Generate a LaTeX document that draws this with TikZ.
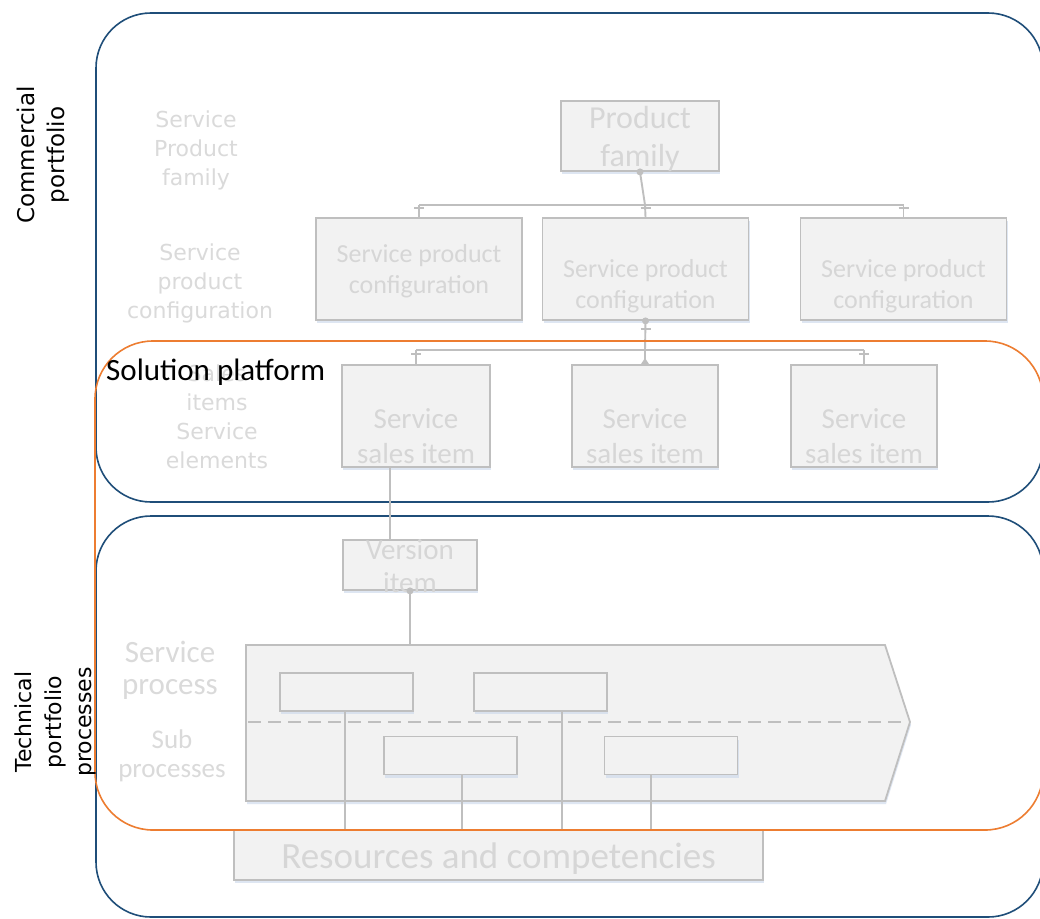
\documentclass[tikz,border=0pt]{standalone}
\usepackage{fontspec}
\setmainfont{Carlito}
\newfontfamily\comicf{DejaVu Sans}
\usetikzlibrary{shadows,calc}
\definecolor{bfill}{HTML}{F2F2F2}
\definecolor{bline}{HTML}{BFBFBF}
\definecolor{btxt}{HTML}{D6D6D6}
\definecolor{ltxt}{HTML}{DADADA}
\definecolor{bluel}{HTML}{1F4E79}
\definecolor{orangel}{HTML}{ED7D31}
\definecolor{shadowc}{HTML}{C9D6EA}
\begin{document}
\begin{tikzpicture}[x=1pt,y=-1pt,
  gbox/.style={draw=bline, fill=bfill, line width=1.8pt, inner sep=0pt, align=center, text=btxt,
    drop shadow={shadow xshift=1pt, shadow yshift=-3pt, fill=shadowc, opacity=0.6}},
  conn/.style={draw=bline, line width=1.9pt},
  tick/.style={draw=bline, line width=1.6pt},
  sidelbl/.style={text=ltxt, align=center, font=\comicf\fontsize{22}{29}\selectfont},
  bigbox/.style={line width=1.6pt, rounded corners=55pt},
  rotlbl/.style={rotate=90, align=center, text=black}]
\useasboundingbox (0,0) rectangle (1040,918);
\fill[white] (0,0) rectangle (1040,918);

% region boxes (blue)
\draw[bigbox, draw=bluel] (96,13) rectangle (1043,502);
\draw[bigbox, draw=bluel] (96,516) rectangle (1043,917);

% side labels
\node[sidelbl] (lpf) at (196,150) {Service\\Product\\family};
\node[sidelbl] (lspc) at (200,283) {Service\\product\\configuration};
\node[sidelbl] (lsi) at (217,417) {Sales\\items\\Service\\elements};
\node[text=ltxt, align=center, font=\fontsize{31}{32}\selectfont] (lsp) at (170,670) {Service\\process};
\node[text=ltxt, align=center, font=\fontsize{27}{29}\selectfont] (lsub) at (172,756) {Sub\\processes};

% commercial nodes
\node[gbox, minimum width=158pt, minimum height=70pt,
  label={[text=btxt, align=center, font=\fontsize{32}{38}\selectfont, yshift=-3pt]center:Product\\family}] (pf) at (640,136) {};
\node[gbox, minimum width=206pt, minimum height=102pt,
  label={[text=btxt, align=center, font=\fontsize{26}{31}\selectfont, yshift=-2pt]center:Service product\\configuration}] (spc1) at (419,269) {};
\node[gbox, minimum width=206pt, minimum height=102pt,
  label={[text=btxt, align=center, font=\fontsize{26}{31}\selectfont, yshift=-17pt]center:Service product\\configuration}] (spc2) at (645.5,269) {};
\node[gbox, minimum width=206pt, minimum height=102pt,
  label={[text=btxt, align=center, font=\fontsize{26}{31}\selectfont, yshift=-17pt]center:Service product\\configuration}] (spc3) at (903.5,269) {};

\node[gbox, minimum width=148pt, minimum height=102pt,
  label={[text=btxt, align=center, font=\fontsize{29}{35}\selectfont, yshift=-20pt]center:Service\\sales item}] (ssi1) at (416,416) {};
\node[gbox, minimum width=146pt, minimum height=102pt,
  label={[text=btxt, align=center, font=\fontsize{29}{35}\selectfont, yshift=-20pt]center:Service\\sales item}] (ssi2) at (645,416) {};
\node[gbox, minimum width=146pt, minimum height=102pt,
  label={[text=btxt, align=center, font=\fontsize{29}{35}\selectfont, yshift=-20pt]center:Service\\sales item}] (ssi3) at (864,416) {};

\node[gbox, minimum width=134pt, minimum height=50pt,
  label={[text=btxt, align=center, font=\fontsize{29}{33}\selectfont, yshift=-1pt]center:Version\\item}] (ver) at (410,565) {};

% service process chevron
\draw[draw=bline, fill=bfill, line width=1.8pt,
  drop shadow={shadow xshift=1pt, shadow yshift=-3pt, fill=shadowc, opacity=0.6}]
  (246,645) -- (885,645) -- (910,722) -- (885,801) -- (246,801) -- cycle;
\coordinate (sptop) at (410,645);
\draw[draw=bline, line width=2.5pt, dash pattern=on 13pt off 7pt] (248,722) -- (907,722);

\node[gbox, minimum width=133pt, minimum height=38pt] (pa) at (346.5,692) {};
\node[gbox, minimum width=133pt, minimum height=38pt] (pb) at (540.5,692) {};
\node[gbox, minimum width=133pt, minimum height=38pt] (pc) at (450.5,755.5) {};
\node[gbox, minimum width=133pt, minimum height=38pt] (pd) at (671,755.5) {};

\node[gbox, minimum width=529pt, minimum height=50pt,
  label={[text=btxt, font=\fontsize{37}{40}\selectfont, yshift=-4pt]center:Resources and competencies}] (res) at (498.5,855) {};

% connectors: product family -> configurations
\coordinate (b1) at (645,205);
\draw[conn] (pf.south) -- (b1);
\draw[conn] (spc1.north |- b1) -- (spc3.north |- b1);
\draw[conn] (spc1.north |- b1) -- (spc1.north);
\draw[conn] (b1) -- (spc2.north);
\draw[conn] (spc3.north |- b1) -- (spc3.north);
\foreach \n in {spc1,spc2,spc3}{
  \draw[tick] ($(\n.north)+(-5,-9)$) -- ++(10,0);
}
\fill[bline] (pf.south) circle (3.5pt);

% configuration -> sales items
\coordinate (b2) at (645,350);
\draw[conn] (spc2.south) -- (b2);
\draw[conn] (ssi1.north |- b2) -- (ssi3.north |- b2);
\draw[conn] (ssi1.north |- b2) -- (ssi1.north);
\draw[conn] (b2) -- (ssi2.north);
\draw[conn] (ssi3.north |- b2) -- (ssi3.north);
\draw[tick] ($(spc2.south)+(-5,8)$) -- ++(10,0);
\draw[tick] ($(ssi1.north)+(-5,-10)$) -- ++(10,0);
\draw[tick] ($(ssi3.north)+(-5,-10)$) -- ++(10,0);
\fill[bline] (spc2.south) circle (3.5pt);
\fill[bline] ($(ssi2.north)+(-4,0)$) -- ($(ssi2.north)+(0,-6)$) -- ($(ssi2.north)+(4,0)$) -- cycle;

% sales item -> version item -> process
\draw[conn] ([xshift=-26pt]ssi1.south) -- ([xshift=-26pt]ssi1.south |- ver.north);
\draw[conn] (ver.south) -- (sptop);
\fill[bline] (ver.south) circle (3.5pt);

% process boxes -> resources
\draw[conn] ([xshift=-1.5pt]pa.south) -- ([xshift=-1.5pt]pa.south |- res.north);
\draw[conn] ([xshift=21.5pt]pb.south) -- ([xshift=21.5pt]pb.south |- res.north);
\draw[conn] ([xshift=11.5pt]pc.south) -- ([xshift=11.5pt]pc.south |- res.north);
\draw[conn] ([xshift=-20pt]pd.south) -- ([xshift=-20pt]pd.south |- res.north);

% solution platform region (orange)
\draw[bigbox, draw=orangel, rounded corners=58pt] (95,341) rectangle (1043,830);
\node[anchor=west, text=black, font=\fontsize{31}{34}\selectfont, inner sep=0pt] (sol) at (106,372) {Solution platform};

% rotated labels
\node[rotlbl, font=\comicf\fontsize{23}{30}\selectfont] (cp) at (43,155) {Commercial\\portfolio};
\node[rotlbl, font=\comicf\fontsize{22}{30}\selectfont] (tp) at (55,722) {Technical\\portfolio\\processes};
\end{tikzpicture}
\end{document}
